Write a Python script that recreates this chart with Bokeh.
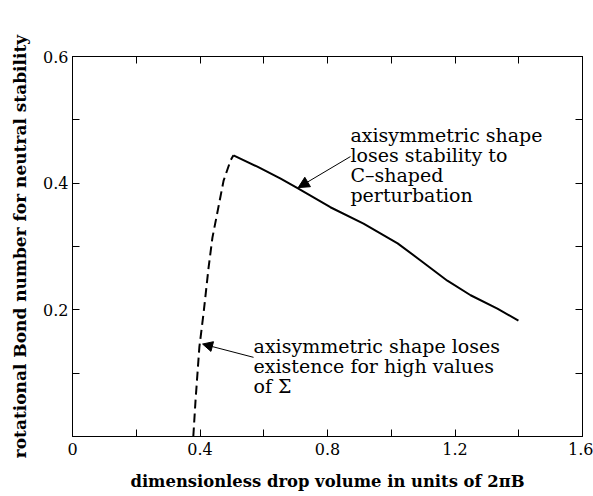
from bokeh.plotting import figure
from bokeh.models import (Range1d, FixedTicker, LinearAxis, Arrow, NormalHead, Label)
from bokeh.embed import file_html
from bokeh.resources import INLINE

# --- data ---
dashed_x = [0.379, 0.386, 0.398, 0.411, 0.427, 0.439, 0.474, 0.496, 0.505]
dashed_y = [0.0, 0.057, 0.141, 0.194, 0.267, 0.314, 0.404, 0.436, 0.444]

solid_x = [0.505, 0.58, 0.653, 0.706, 0.809, 0.913, 1.02, 1.092, 1.176, 1.249, 1.333, 1.399]
solid_y = [0.444, 0.426, 0.407, 0.392, 0.362, 0.336, 0.305, 0.278, 0.246, 0.223, 0.202, 0.183]

x_major = [0, 0.4, 0.8, 1.2, 1.6]
x_minor = [0.2, 0.6, 1.0, 1.4]
x_labels = {0: "0", 0.4: "0.4", 0.8: "0.8", 1.2: "1.2", 1.6: "1.6"}
y_major = [0.2, 0.4, 0.6]
y_minor = [0.1, 0.3, 0.5]
y_labels = {0.2: "0.2", 0.4: "0.4", 0.6: "0.6"}

x_title = "dimensionless drop volume in units of 2\u03c0B"
y_title = "rotational Bond number for neutral stability"

note1_lines = ["axisymmetric shape", "loses stability to", "C\u2013shaped", "perturbation"]
note2_lines = ["axisymmetric shape loses", "existence for high values", "of \u03a3"]

SERIF = "DejaVu Serif"

p = figure(width=593, height=496, output_backend="svg", toolbar_location=None,
           x_range=Range1d(0, 1.6), y_range=Range1d(0, 0.6),
           min_border_left=72, min_border_right=11, min_border_top=56, min_border_bottom=60,
           frame_width=510, frame_height=380)
p.xaxis.visible = False
p.yaxis.visible = False
p.grid.visible = False
p.outline_line_color = "black"
p.outline_line_width = 1
p.background_fill_color = "white"
p.border_fill_color = "white"

def style(ax, major, minor, labels, show_labels):
    ax.ticker = FixedTicker(ticks=major, minor_ticks=minor)
    ax.major_tick_in = 7
    ax.major_tick_out = 0
    ax.minor_tick_in = 7
    ax.minor_tick_out = 0
    ax.major_tick_line_color = "black"
    ax.minor_tick_line_color = "black"
    ax.major_tick_line_width = 1
    ax.minor_tick_line_width = 1
    ax.axis_line_color = "black"
    ax.axis_line_width = 1
    if show_labels:
        ax.major_label_overrides = labels
        ax.major_label_text_font = SERIF
        ax.major_label_text_font_size = "16px"
        ax.major_label_text_color = "black"
    else:
        ax.major_label_text_font_size = "0px"
        ax.major_label_text_alpha = 0

xb = LinearAxis()
style(xb, x_major, x_minor, x_labels, True)
xb.major_label_standoff = 6
xb.axis_label = x_title
xb.axis_label_text_font = SERIF
xb.axis_label_text_font_style = "bold"
xb.axis_label_text_font_size = "16.4px"
xb.axis_label_text_color = "black"
xb.axis_label_standoff = 14
p.add_layout(xb, "below")

yl = LinearAxis()
style(yl, y_major, y_minor, y_labels, True)
yl.major_label_standoff = 4
yl.axis_label = y_title
yl.axis_label_text_font = SERIF
yl.axis_label_text_font_style = "bold"
yl.axis_label_text_font_size = "17px"
yl.axis_label_text_color = "black"
yl.axis_label_standoff = 10
p.add_layout(yl, "left")

xt = LinearAxis()
style(xt, x_major, x_minor, x_labels, False)
p.add_layout(xt, "above")

yr = LinearAxis()
style(yr, y_major, y_minor, y_labels, False)
p.add_layout(yr, "right")

p.line(dashed_x, dashed_y, line_color="black", line_width=2, line_dash="9 5")
p.line(solid_x, solid_y, line_color="black", line_width=2)

# annotations
n1_x, n1_top, line_step = 0.872, 0.494, 0.0318
for i, t in enumerate(note1_lines):
    p.add_layout(Label(x=n1_x, y=n1_top - i * line_step, text=t, text_font=SERIF,
                       text_font_size="19px", text_baseline="top", text_color="black"))
n2_x, n2_top = 0.568, 0.160
for i, t in enumerate(note2_lines):
    p.add_layout(Label(x=n2_x, y=n2_top - i * line_step, text=t, text_font=SERIF,
                       text_font_size="19px", text_baseline="top", text_color="black"))

p.add_layout(Arrow(x_start=0.872, y_start=0.442, x_end=0.708, y_end=0.393,
                   line_color="black", line_width=1,
                   end=NormalHead(size=11, fill_color="black", line_color="black")))
p.add_layout(Arrow(x_start=0.568, y_start=0.125, x_end=0.408, y_end=0.146,
                   line_color="black", line_width=1,
                   end=NormalHead(size=10, fill_color="black", line_color="black")))

open("out.html", "w").write(file_html(p, INLINE))
